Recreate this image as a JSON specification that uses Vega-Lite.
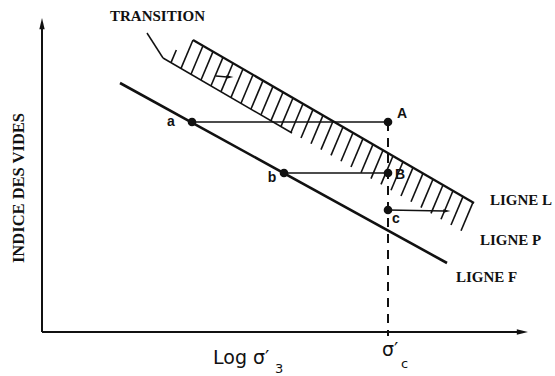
{
  "$schema": "https://vega.github.io/schema/vega-lite/v6.json",
  "width": 555,
  "height": 376,
  "autosize": {"type": "none"},
  "padding": 0,
  "background": "white",
  "config": {"view": {"stroke": null}},
  "datasets": {
    "axes": [
      {"x": 0, "y": 0, "x2": 0, "y2": 30.7},
      {"x": 0, "y": 0, "x2": 47.9, "y2": 0}
    ],
    "axisHeads": [
      {"x": 0, "y": 30.7, "dir": "up"},
      {"x": 47.9, "y": 0, "dir": "right"}
    ],
    "pathHeads": [
      {"x": 18.7, "y": 25.5},
      {"x": 40.4, "y": 12.1}
    ],
    "lineF": [{"x": 7.8, "y": 24.9, "x2": 40.5, "y2": 6.9}],
    "lineL": [{"x": 15.1, "y": 29.2, "x2": 43.2, "y2": 12.9}],
    "bandEdges": [
      {"x": 10.5, "y": 29.9, "x2": 12.1, "y2": 27.4},
      {"x": 12.1, "y": 27.4, "x2": 25.0, "y2": 19.9}
    ],
    "paths": [
      {"x": 15.0, "y": 21.0, "x2": 34.6, "y2": 21.0},
      {"x": 24.2, "y": 15.9, "x2": 34.6, "y2": 15.9},
      {"x": 34.6, "y": 12.2, "x2": 40.2, "y2": 12.1},
      {"x": 17.4, "y": 25.6, "x2": 18.5, "y2": 25.5}
    ],
    "sigmaC": [{"x": 34.6, "y": 21.0, "x2": 34.6, "y2": -0.4}],
    "hatch": [
      {"x": 12.9, "y": 26.94, "x2": 13.43, "y2": 28.20},
      {"x": 13.9, "y": 26.36, "x2": 15.1, "y2": 29.20},
      {"x": 14.9, "y": 25.78, "x2": 16.1, "y2": 28.62},
      {"x": 15.9, "y": 25.20, "x2": 17.1, "y2": 28.04},
      {"x": 16.9, "y": 24.62, "x2": 18.1, "y2": 27.46},
      {"x": 17.9, "y": 24.04, "x2": 19.1, "y2": 26.88},
      {"x": 18.9, "y": 23.46, "x2": 20.1, "y2": 26.30},
      {"x": 19.9, "y": 22.88, "x2": 21.1, "y2": 25.72},
      {"x": 20.9, "y": 22.30, "x2": 22.1, "y2": 25.14},
      {"x": 21.9, "y": 21.72, "x2": 23.1, "y2": 24.56},
      {"x": 22.9, "y": 21.14, "x2": 24.1, "y2": 23.98},
      {"x": 23.9, "y": 20.56, "x2": 25.1, "y2": 23.40},
      {"x": 24.9, "y": 19.98, "x2": 26.1, "y2": 22.82},
      {"x": 25.9, "y": 19.40, "x2": 27.1, "y2": 22.24},
      {"x": 26.9, "y": 18.82, "x2": 28.1, "y2": 21.66},
      {"x": 27.9, "y": 18.24, "x2": 29.1, "y2": 21.08},
      {"x": 28.9, "y": 17.66, "x2": 30.1, "y2": 20.50},
      {"x": 29.9, "y": 17.08, "x2": 31.1, "y2": 19.92},
      {"x": 30.9, "y": 16.50, "x2": 32.1, "y2": 19.34},
      {"x": 31.9, "y": 15.92, "x2": 33.1, "y2": 18.76},
      {"x": 32.9, "y": 15.34, "x2": 34.1, "y2": 18.18},
      {"x": 33.9, "y": 14.76, "x2": 35.1, "y2": 17.60},
      {"x": 34.9, "y": 14.18, "x2": 36.1, "y2": 17.02},
      {"x": 35.9, "y": 13.60, "x2": 37.1, "y2": 16.44},
      {"x": 36.9, "y": 13.02, "x2": 38.1, "y2": 15.86},
      {"x": 37.9, "y": 12.44, "x2": 39.1, "y2": 15.28},
      {"x": 38.9, "y": 11.86, "x2": 40.1, "y2": 14.70},
      {"x": 39.9, "y": 11.28, "x2": 41.1, "y2": 14.12},
      {"x": 40.9, "y": 10.70, "x2": 42.1, "y2": 13.54},
      {"x": 41.9, "y": 10.12, "x2": 43.1, "y2": 12.96}
    ],
    "states": [
      {"x": 15.0, "y": 21.0},
      {"x": 34.6, "y": 21.0},
      {"x": 24.2, "y": 15.9},
      {"x": 34.6, "y": 15.9},
      {"x": 34.6, "y": 12.2}
    ],
    "stateLabels": [
      {"label": "a", "x": 12.9, "y": 21.0},
      {"label": "A", "x": 36.0, "y": 21.8},
      {"label": "b", "x": 23.0, "y": 15.4},
      {"label": "B", "x": 35.8, "y": 15.7},
      {"label": "c", "x": 35.4, "y": 11.3}
    ],
    "captions": [
      {"label": "TRANSITION", "x": 6.8, "y": 31.6},
      {"label": "LIGNE L", "x": 44.8, "y": 13.2},
      {"label": "LIGNE P", "x": 43.8, "y": 9.2},
      {"label": "LIGNE F", "x": 41.4, "y": 5.5}
    ],
    "yTitle": [{"label": "INDICE DES VIDES", "x": -2.3, "y": 14.4}],
    "xText": [
      {"label": "Log σ′", "x": 17.1, "y": -3.2},
      {"label": "σ′", "x": 34.0, "y": -2.4}
    ],
    "xSubs": [
      {"label": "3", "x": 23.3, "y": -4.1},
      {"label": "c", "x": 35.9, "y": -3.6}
    ]
  },
  "encoding": {
    "x": {"field": "x", "type": "quantitative", "scale": {"domain": [-4.2, 51.3], "nice": false, "zero": false}, "axis": null},
    "y": {"field": "y", "type": "quantitative", "scale": {"domain": [-4.4, 33.2], "nice": false, "zero": false}, "axis": null}
  },
  "layer": [
    {
      "data": {"name": "axes"},
      "mark": {"type": "rule", "color": "#111", "strokeWidth": 2},
      "encoding": {"x2": {"field": "x2"}, "y2": {"field": "y2"}}
    },
    {
      "data": {"name": "axisHeads"},
      "mark": {"type": "point", "filled": true, "color": "#111", "opacity": 1, "size": 196},
      "encoding": {
        "shape": {"field": "dir", "type": "nominal", "legend": null,
          "scale": {"domain": ["up", "right"], "range": ["M0,-1L0.38,0.6L-0.38,0.6Z", "M1,0L-0.6,0.38L-0.6,-0.38Z"]}}
      }
    },
    {
      "data": {"name": "hatch"},
      "mark": {"type": "rule", "color": "#111", "strokeWidth": 1.6},
      "encoding": {"x2": {"field": "x2"}, "y2": {"field": "y2"}}
    },
    {
      "data": {"name": "bandEdges"},
      "mark": {"type": "rule", "color": "#111", "strokeWidth": 1.5},
      "encoding": {"x2": {"field": "x2"}, "y2": {"field": "y2"}}
    },
    {
      "data": {"name": "lineL"},
      "mark": {"type": "rule", "color": "#111", "strokeWidth": 2.2},
      "encoding": {"x2": {"field": "x2"}, "y2": {"field": "y2"}}
    },
    {
      "data": {"name": "lineF"},
      "mark": {"type": "rule", "color": "#111", "strokeWidth": 2.6},
      "encoding": {"x2": {"field": "x2"}, "y2": {"field": "y2"}}
    },
    {
      "data": {"name": "paths"},
      "mark": {"type": "rule", "color": "#111", "strokeWidth": 1.5},
      "encoding": {"x2": {"field": "x2"}, "y2": {"field": "y2"}}
    },
    {
      "data": {"name": "sigmaC"},
      "mark": {"type": "rule", "color": "#111", "strokeWidth": 2, "strokeDash": [9, 7]},
      "encoding": {"x2": {"field": "x2"}, "y2": {"field": "y2"}}
    },
    {
      "data": {"name": "pathHeads"},
      "mark": {"type": "point", "filled": true, "color": "#111", "opacity": 1, "size": 80,
        "shape": "M1,0L-0.6,0.4L-0.6,-0.4Z"}
    },
    {
      "data": {"name": "states"},
      "mark": {"type": "circle", "color": "#111", "opacity": 1, "size": 75}
    },
    {
      "data": {"name": "stateLabels"},
      "mark": {"type": "text", "font": "Liberation Sans", "fontWeight": "bold", "fontSize": 14, "color": "#111", "align": "center", "baseline": "middle"},
      "encoding": {"text": {"field": "label"}}
    },
    {
      "data": {"name": "captions"},
      "mark": {"type": "text", "font": "Liberation Serif", "fontWeight": "bold", "fontSize": 15, "color": "#111", "align": "left", "baseline": "middle"},
      "encoding": {"text": {"field": "label"}}
    },
    {
      "data": {"name": "yTitle"},
      "mark": {"type": "text", "font": "Liberation Serif", "fontWeight": "bold", "fontSize": 16.5, "color": "#111", "align": "center", "baseline": "middle", "angle": 270},
      "encoding": {"text": {"field": "label"}}
    },
    {
      "data": {"name": "xText"},
      "mark": {"type": "text", "font": "DejaVu Sans", "fontSize": 19, "color": "#111", "align": "left", "baseline": "alphabetic"},
      "encoding": {"text": {"field": "label"}}
    },
    {
      "data": {"name": "xSubs"},
      "mark": {"type": "text", "font": "DejaVu Sans", "fontSize": 13, "color": "#111", "align": "left", "baseline": "alphabetic"},
      "encoding": {"text": {"field": "label"}}
    }
  ]
}
